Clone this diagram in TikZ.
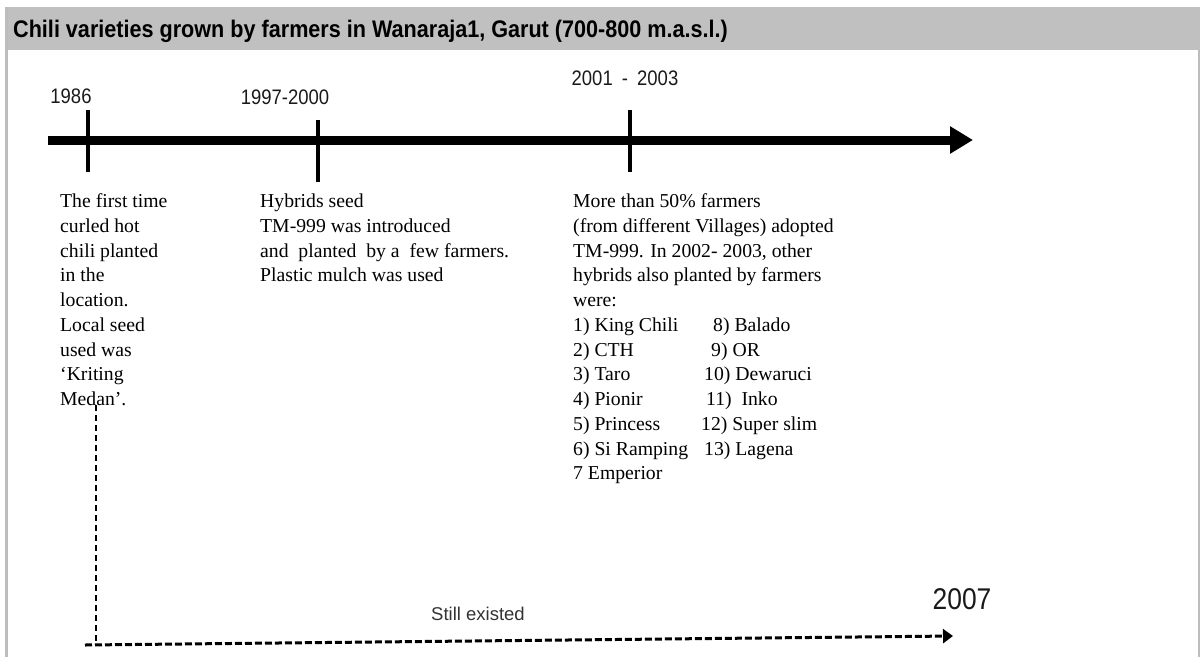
\documentclass[tikz,border=0pt]{standalone}
\usepackage{fontspec}
\setmainfont{Liberation Serif}
\setsansfont{Liberation Sans}
\newfontfamily\narrowsans[FakeStretch=0.88]{Liberation Sans}
\newfontfamily\titlesans[FakeStretch=0.9]{Liberation Sans}
\usetikzlibrary{arrows.meta, positioning}
\definecolor{chband}{HTML}{C0C0C0}
\definecolor{chframe}{HTML}{BDBDBD}
\definecolor{chink}{HTML}{1A1A1A}
\definecolor{chsoft}{HTML}{333333}

\begin{document}
\begin{tikzpicture}[x=1pt, y=-1pt, line cap=butt,
    year/.style={font=\narrowsans\fontsize{21}{24}\selectfont, text=chink, inner sep=0},
    note/.style={font=\rmfamily\fontsize{19.7}{24.75}\selectfont, align=left,
                 anchor=north west, inner sep=0},
    tick/.style={line width=4pt},
    keep/.style={dash pattern=on 6pt off 4pt, line width=1.5pt}]
  \useasboundingbox (0,0) rectangle (1200,657);
  % frame and title band
  \fill[chband] (5,7) rectangle (1200,50);
  \draw[chframe, line width=2.5pt] (6.25,7) -- (6.25,657);
  \draw[chframe, line width=1.5pt] (1198.75,50) -- (1198.75,657);
  \node[anchor=base west, inner sep=0, font=\titlesans\bfseries\fontsize{24}{26}\selectfont]
    (title) at (13,37.5) {Chili varieties grown by farmers in Wanaraja1, Garut (700-800 m.a.s.l.)};
  % time line
  \coordinate (tl start) at (48,140);
  \coordinate (tl end) at (973,140);
  \draw[line width=9pt, -{Triangle[length=23pt 0, width=26pt 0]}] (tl start) -- (tl end);
  \foreach \tx/\ty in {88/110, 318/120, 630/110}
    \draw[tick] (\tx,\ty) -- ++(0,62);
  \node[year] (y1986) at (71,96) {1986};
  \node[year] (y1997) at (285,97) {1997-2000};
  \node[year] (y2001) at (625,78) {2001\hspace{4pt} -\hspace{4pt} 2003};
  % events
  \node[note] (txt1986) at (60,190) {\strut The first time\\curled hot\\chili planted\\in the\\
    location.\\Local seed\\used was\\`Kriting\\Medan'.};
  \node[note] (txt1997) at (260,190) {\strut Hybrids seed\\TM-999 was introduced\\
    and~ planted~ by a~ few farmers.\\Plastic mulch was used};
  \node[note] (txt2001) at (573,190) {\strut More than 50\% farmers\\
    (from different Villages) adopted\\TM-999. In 2002- 2003, other\\
    hybrids also planted by farmers\\were:\\
    \makebox[140pt][l]{1) King Chili}8) Balado\\
    \makebox[138pt][l]{2) CTH}9) OR\\
    \makebox[131pt][l]{3) Taro}10) Dewaruci\\
    \makebox[133pt][l]{4) Pionir}11)~ Inko\\
    \makebox[128pt][l]{5) Princess}12) Super slim\\
    \makebox[131pt][l]{6) Si Ramping}13) Lagena\\
    7 Emperior};
  % still existed
  \coordinate (keep top) at (96,405);
  \coordinate (keep low) at (96,642);
  \coordinate (keep start) at (85,645);
  \coordinate (now) at (953,636);
  \draw[keep] (keep top) -- (keep low);
  \draw[dash pattern=on 7pt off 3pt, line width=3pt,
        -{Triangle[length=10pt 0, width=14pt 0]}] (keep start) -- (now);
  \node[font=\sffamily\fontsize{18.5}{22}\selectfont, text=chsoft, inner sep=0]
    (still) at (478,614) {Still existed};
  \node[year, font=\narrowsans\fontsize{30}{32}\selectfont] (y2007) at (962,599) {2007};
\end{tikzpicture}
\end{document}
